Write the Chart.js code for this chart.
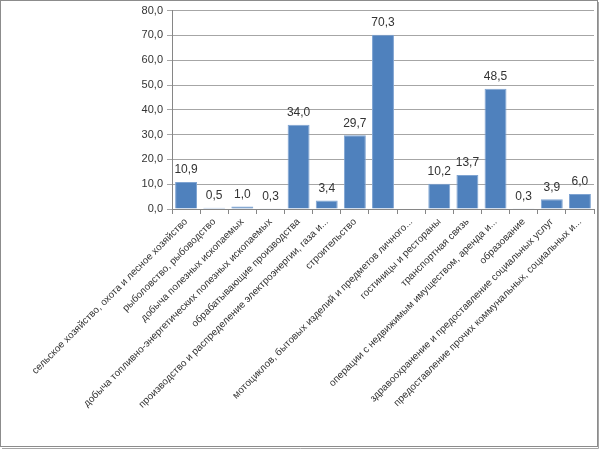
<!DOCTYPE html>
<html>
<head>
<meta charset="utf-8">
<script src="https://cdn.jsdelivr.net/npm/chart.js@4.4.0/dist/chart.umd.min.js"></script>
<style>
  html, body { margin: 0; padding: 0; background: #fff; }
  #wrap { width: 600px; height: 449px; }
</style>
</head>
<body>
<div id="wrap"><canvas id="chart" width="600" height="449"></canvas></div>
<script>
// категории (отрасли), подписи как на исходной диаграмме
const categories = [
  "сельское хозяйство, охота и лесное хозяйство",
  "рыболовство, рыбоводство",
  "добыча полезных ископаемых",
  "добыча топливно-энергетических полезных ископаемых",
  "обрабатывающие производства",
  "производство и распределение электроэнергии, газа и...",
  "строительство",
  "",
  "мотоциклов, бытовых изделий и предметов личного...",
  "гостиницы и рестораны",
  "транспортная связь",
  "операции с недвижимым имуществом, аренда и...",
  "образование",
  "здравоохранение и предоставление социальных услуг",
  "предоставление прочих коммунальных, социальных и..."
];

// значения
const values = [10.9, 0.5, 1.0, 0.3, 34.0, 3.4, 29.7, 70.3, null, 10.2, 13.7, 48.5, 0.3, 3.9, 6.0];

// шкала Y
const yMin = 0;
const yMax = 80;
const yStep = 10;

const fmt = (v) => v.toFixed(1).replace(".", ",");

// подписи значений над столбцами
const valueLabels = {
  id: "valueLabels",
  afterDatasetsDraw(chart) {
    const ctx = chart.ctx;
    const meta = chart.getDatasetMeta(0);
    ctx.save();
    ctx.font = "12px 'Liberation Sans', Arial, sans-serif";
    ctx.fillStyle = "#333333";
    ctx.textAlign = "center";
    ctx.textBaseline = "bottom";
    meta.data.forEach((bar, i) => {
      const v = values[i];
      if (v === null) return;
      ctx.fillText(fmt(v), bar.x, bar.y - 6);
    });
    ctx.restore();
  }
};

// рамка вокруг диаграммы
const frame = {
  id: "frame",
  afterDraw(chart) {
    const ctx = chart.ctx;
    ctx.save();
    ctx.strokeStyle = "#8c8c8c";
    ctx.lineWidth = 1;
    ctx.strokeRect(0.5, 0.5, 597, 446);
    ctx.strokeStyle = "#a6a6a6";
    ctx.beginPath();
    ctx.moveTo(598.5, 2);
    ctx.lineTo(598.5, 448.5);
    ctx.lineTo(2, 448.5);
    ctx.stroke();
    ctx.restore();
  }
};

const ctx = document.getElementById("chart").getContext("2d");
new Chart(ctx, {
  type: "bar",
  data: {
    labels: categories,
    datasets: [
      {
        data: values,
        backgroundColor: "#4f81bd",
        borderColor: "#7fa4d2",
        borderWidth: 1,
        barPercentage: 0.78,
        categoryPercentage: 1.0
      }
    ]
  },
  options: {
    responsive: false,
    animation: false,
    devicePixelRatio: 1,
    layout: { padding: { top: 8, right: 6, left: 0, bottom: 0 } },
    plugins: {
      legend: { display: false },
      tooltip: { enabled: false }
    },
    scales: {
      x: {
        afterFit: (s) => { s.height = 240; },
        grid: {
          display: true,
          drawOnChartArea: false,
          drawTicks: true,
          tickLength: 5,
          color: "#868686",
          offset: true
        },
        border: { display: true, color: "#868686" },
        ticks: {
          autoSkip: false,
          maxRotation: 45,
          minRotation: 45,
          padding: 2,
          color: "#333333",
          font: { family: "'Liberation Sans', Arial, sans-serif", size: 10 }
        }
      },
      y: {
        min: yMin,
        max: yMax,
        afterFit: (s) => { s.width = 172; },
        grid: {
          color: "#a6a6a6",
          tickLength: 5,
          drawTicks: true
        },
        border: { display: true, color: "#868686" },
        ticks: {
          stepSize: yStep,
          padding: 4,
          color: "#333333",
          font: { family: "'Liberation Sans', Arial, sans-serif", size: 11 },
          callback: (v) => fmt(v)
        }
      }
    }
  },
  plugins: [valueLabels, frame]
});
</script>
</body>
</html>
